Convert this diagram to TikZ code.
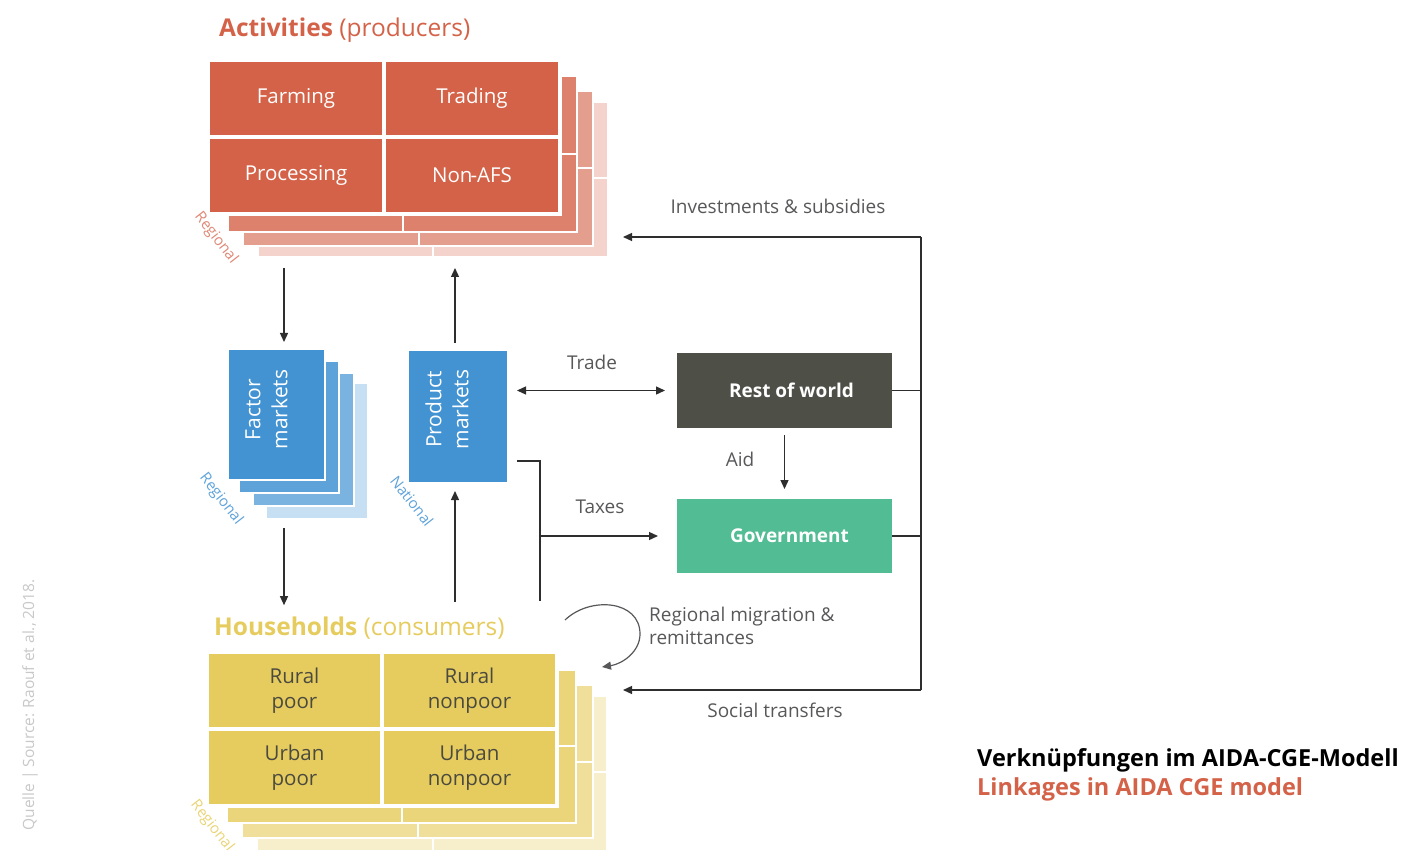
\documentclass[tikz,border=0pt]{standalone}
\usepackage{fontspec}
\setmainfont{Open Sans}
\usetikzlibrary{arrows.meta}

\definecolor{actred}{HTML}{D46248}
\definecolor{mktblue}{HTML}{4393D3}
\definecolor{hhyellow}{HTML}{E6CC5E}
\definecolor{rowgray}{HTML}{4E5048}
\definecolor{govgreen}{HTML}{52BC94}
\definecolor{labelgray}{HTML}{58585A}
\definecolor{linegray}{HTML}{2E2E2E}
\definecolor{hhtext}{HTML}{4B4A3F}
\definecolor{notegray}{HTML}{C8C8C8}

% one shifted copy of a 2x2 grid, drawn behind the front grid
\newcommand{\stacklayer}[7]{%
  \filldraw[draw=white, line width=2pt, fill=#7] (#1,#2) rectangle (#5,#6);
  \filldraw[draw=white, line width=2pt, fill=#7] (#5,#2) rectangle (#3,#6);
  \filldraw[draw=white, line width=2pt, fill=#7] (#1,#6) rectangle (#5,#4);
  \filldraw[draw=white, line width=2pt, fill=#7] (#5,#6) rectangle (#3,#4);}

\begin{document}
\begin{tikzpicture}[x=1pt, y=-1pt,
  gridcell/.style={rectangle, anchor=north west, inner sep=0pt, outer sep=0pt,
    minimum width=176pt, minimum height=77pt, draw=white, line width=4pt,
    align=center},
  actcell/.style={gridcell, fill=actred, text=white,
    font=\fontsize{20.5}{25}\selectfont},
  hhcell/.style={gridcell, minimum width=175pt, fill=hhyellow, text=hhtext,
    font=\fontsize{20.5}{25}\selectfont},
  mktbox/.style={rectangle, anchor=north west, inner sep=0pt, outer sep=0pt,
    minimum width=97pt, minimum height=131pt, fill=mktblue},
  mkttext/.style={text=white, rotate=90, align=center, inner sep=0pt,
    font=\fontsize{21}{27}\selectfont},
  sectorbox/.style={rectangle, anchor=north west, inner sep=0pt, outer sep=0pt,
    minimum width=215pt, minimum height=74pt, text=white,
    font=\bfseries\fontsize{19}{24}\selectfont},
  lbl/.style={text=labelgray, font=\fontsize{19}{23}\selectfont, inner sep=0pt},
  scopelbl/.style={font=\fontsize{15}{18}\selectfont, inner sep=0pt},
  flow/.style={draw=linegray, line width=1.3pt},
  arr/.style={flow, -{Triangle[length=9pt,width=8pt]}},
  dblarr/.style={flow, {Triangle[length=9pt,width=8pt]}-{Triangle[length=9pt,width=8pt]}},
  ghost/.style={rectangle, anchor=north west, inner sep=0pt, outer sep=0pt}
]
\useasboundingbox (0,0) rectangle (1411,850);

% ---------------- Activities ----------------
\node[anchor=base west, inner sep=0pt, text=actred,
  font=\fontsize{24.5}{28}\selectfont] (acttitle) at (219,37)
  {\textbf{Activities} (producers)};

\stacklayer{258}{102}{608}{257}{433}{178}{actred!28!white}
\stacklayer{243}{91}{593}{246}{419}{168}{actred!62!white}
\stacklayer{228}{76}{577}{232}{403}{154}{actred!80!white}
\node[actcell] (farming) at (208,60) {Farming};
\node[actcell] (trading) at (384,60) {\raisebox{-3pt}{Trading}};
\node[actcell] (processing) at (208,137) {Processing};
\node[actcell] (nonafs) at (384,137) {\raisebox{-3pt}{Non\kern-2pt-AFS}};
\node[ghost, minimum width=400pt, minimum height=197pt] (actstack) at (208,60) {};
\node[scopelbl, text=actred!75!white, rotate=-52] (actscope) at (216,238) {Regional};

% ---------------- Factor markets ----------------
\filldraw[draw=white, line width=2pt, fill=mktblue!30!white] (266,383) rectangle (368,519);
\filldraw[draw=white, line width=2pt, fill=mktblue!70!white] (253,373) rectangle (354,506);
\filldraw[draw=white, line width=2pt, fill=mktblue!86!white] (239,361) rectangle (339,493);
\node[mktbox, draw=white, line width=2pt] (fm) at (228,349) {};
\node[mkttext] (fmtext) at ([xshift=-10pt, yshift=5pt]fm.center) {Factor\\markets};
\node[ghost, minimum width=140pt, minimum height=170pt] (fmstack) at (228,349) {};
\node[scopelbl, text=mktblue!85!white, rotate=-52] (fmscope) at (221,499) {Regional};

% ---------------- Product markets ----------------
\node[mktbox, minimum width=98pt] (pm) at (409,351) {};
\node[mkttext] (pmtext) at ([xshift=-11pt, yshift=7pt]pm.center) {Product\\markets};
\node[scopelbl, text=mktblue!85!white, rotate=-52] (pmscope) at (412,501) {National};

% ---------------- Households ----------------
\node[anchor=base west, inner sep=0pt, text=hhyellow,
  font=\fontsize{24.5}{28}\selectfont] (hhtitle) at (214,635)
  {\textbf{Households} (consumers)};

\stacklayer{257}{696}{607}{852}{433}{772}{hhyellow!32!white}
\stacklayer{242}{685}{593}{838}{418}{762}{hhyellow!62!white}
\stacklayer{227}{670}{576}{823}{402}{746}{hhyellow!82!white}
\node[hhcell] (ruralpoor) at (207,652) {Rural\\poor};
\node[hhcell] (ruralnonpoor) at (382,652) {Rural\\nonpoor};
\node[hhcell] (urbanpoor) at (207,729) {\raisebox{4pt}{\begin{tabular}{@{}c@{}}Urban\\poor\end{tabular}}};
\node[hhcell] (urbannonpoor) at (382,729) {Urban\\nonpoor};
\node[ghost, minimum width=400pt, minimum height=198pt] (hhstack) at (207,652) {};
\node[scopelbl, text=hhyellow!85!white, rotate=-52] (hhscope) at (212,826) {Regional};

% ---------------- Rest of world and government ----------------
\node[sectorbox, fill=rowgray, minimum height=75pt] (row) at (677,353) {\hspace*{14pt}Rest of world};
\node[sectorbox, fill=govgreen] (gov) at (677,499) {\hspace*{10pt}Government};

% ---------------- Flows ----------------
\coordinate (colL) at (284,0);
\coordinate (colR) at (455,0);
\draw[arr, shorten <=11pt, shorten >=7pt] (actstack.south -| colL) -- (fm.north -| colL);
\draw[arr, shorten <=9pt, shorten >=11pt] (fmstack.south -| colL) -- (hhtitle.north -| colL);
\draw[arr, shorten <=14pt, shorten >=9pt] (hhtitle.north -| colR) -- (pm.south -| colR);
\draw[arr, shorten <=8pt, shorten >=11pt] (pm.north -| colR) -- (actstack.south -| colR);

% trade with the rest of the world
\draw[dblarr, shorten <=10pt, shorten >=12pt] (pm.east |- row.west) -- (row.west);
\node[lbl] (tradelbl) at (592,362) {Trade};

% aid
\draw[arr, shorten <=7pt, shorten >=10pt] (row.south) -- (gov.north);
\node[lbl] (aidlbl) at (740,459) {Aid};

% taxes from markets and households
\coordinate (taxin) at (517,461);
\coordinate (taxout) at (540,601);
\draw[flow] (taxin) -| (taxout);
\draw[arr, shorten >=19pt] (gov.west -| taxout) -- (gov.west);
\node[lbl] (taxlbl) at (600,507) {Taxes};

% transfers from abroad and government
\coordinate (busTop) at (921,237);
\coordinate (busBot) at (921,690);
\draw[flow] (busTop) -- (busBot);
\draw[flow] (row.east) -- (row.east -| busTop);
\draw[flow] (gov.east) -- (gov.east -| busTop);
\draw[arr, shorten >=15pt] (busTop) -- (actstack.east |- busTop);
\draw[arr, shorten >=16pt] (busBot) -- (hhstack.east |- busBot);
\node[lbl] (investlbl) at (778,206) {Investments \& subsidies};
\node[lbl] (sociallbl) at (775,710) {Social transfers};

% migration between regions
\coordinate (migstart) at (565,620);
\coordinate (migend) at (602,667);
\draw[draw=labelgray, line width=1.2pt, -{Triangle[length=9pt,width=8pt]}]
  (migstart) .. controls (590,596) and (640,600) .. (640,634)
  .. controls (640,652) and (622,664) .. (migend);
\node[lbl, anchor=north west, align=left, text depth=0pt,
  font=\fontsize{19}{23}\selectfont] (miglbl) at (649,607)
  {Regional migration \&\\remittances};

% ---------------- Captions ----------------
\node[rotate=90, text=notegray, inner sep=0pt, font=\fontsize{15.5}{18}\selectfont]
  (source) at (30,705) {Quelle | Source: Raouf et al., 2018.};
\node[anchor=base west, inner sep=0pt, font=\bfseries\fontsize{23.5}{28}\selectfont]
  (titlede) at (977,766) {Verknüpfungen im AIDA-CGE-Modell};
\node[anchor=base west, inner sep=0pt, text=actred, font=\bfseries\fontsize{23.5}{28}\selectfont]
  (titleen) at (977,795) {Linkages in AIDA CGE model};
\end{tikzpicture}
\end{document}
